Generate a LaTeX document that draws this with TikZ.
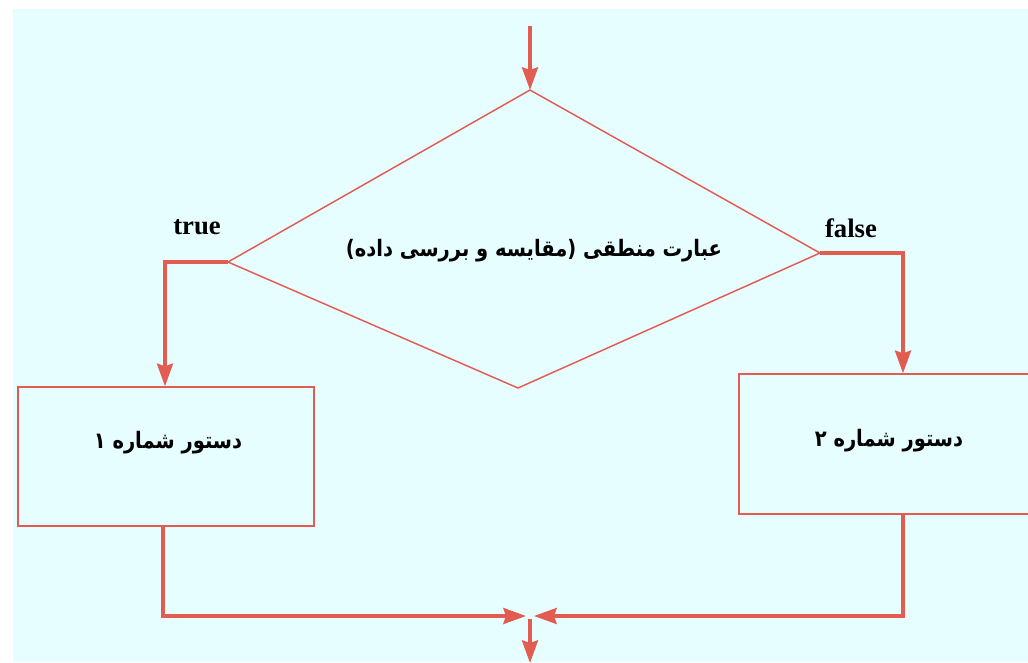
\documentclass[tikz,border=0pt]{standalone}
\usepackage{fontspec}
\usepackage{graphicx}
\setmainfont{Liberation Serif}
\newfontfamily\arabicfont[Script=Arabic]{DejaVu Sans}
\TeXXeTstate=1
\usetikzlibrary{arrows.meta}
\definecolor{bgc}{RGB}{230,254,255}
\definecolor{lc}{RGB}{226,92,82}
\newcommand{\fatext}[1]{\scalebox{0.86}[1]{\beginR #1\endR}}
\tikzset{
  outline/.style={draw=lc, line width=1.1pt},
  conn/.style={draw=lc, line width=2.4pt},
  arr/.style={conn, -{Stealth[length=17pt, width=12pt, inset=2pt]}},
  fa/.style={font=\arabicfont\bfseries\fontsize{17}{20}\selectfont, inner sep=0pt},
  lab/.style={font=\bfseries\fontsize{20}{23}\selectfont, inner sep=0pt},
  box/.style={outline, fill=bgc, rectangle, inner sep=0pt}
}
\begin{document}
\begin{tikzpicture}[x=0.75pt, y=-0.75pt]
\useasboundingbox (0,0) rectangle (1028,662);
\fill[bgc] (13,9) rectangle (1028,662);
% diamond
\coordinate (dtop) at (530,90);
\coordinate (dleft) at (228,262);
\coordinate (dright) at (820,253);
\coordinate (dbot) at (518,388);
\draw[outline] (dtop) -- (dright) -- (dbot) -- (dleft) -- cycle;
\node[fa] (cond) at (534,251) {\fatext{عبارت منطقی (مقایسه و بررسی داده)}};
% boxes
\node[box, minimum width=296*0.75pt, minimum height=139*0.75pt] (b1) at (166,456.5) {};
\node[fa] (t1) at (168,443) {\fatext{دستور شماره ۱}};
\node[box, minimum width=292*0.75pt, minimum height=140*0.75pt] (b2) at (885,444) {};
\node[fa] (t2) at (889,441) {\fatext{دستور شماره ۲}};
% labels
\node[lab] (ltrue) at (197,227) {true};
\node[lab] (lfalse) at (851,228) {false};
% connectors
\coordinate (start) at (530,26);
\draw[arr] (start) -- (dtop);
\coordinate (tl) at (165,262);
\draw[arr] (dleft) -- (tl) -- (tl |- b1.north);
\coordinate (tr) at (903,253);
\draw[arr] (dright) -- (tr) -- (tr |- b2.north);
\coordinate (bl) at (163,616);
\coordinate (br) at (903,616);
\coordinate (jl) at (526,616);
\coordinate (jr) at (534,616);
\draw[arr] (bl |- b1.south) -- (bl) -- (jl);
\draw[arr] (br |- b2.south) -- (br) -- (jr);
\coordinate (js) at (530,619);
\coordinate (je) at (530,663);
\draw[arr] (js) -- (je);
\end{tikzpicture}
\end{document}
